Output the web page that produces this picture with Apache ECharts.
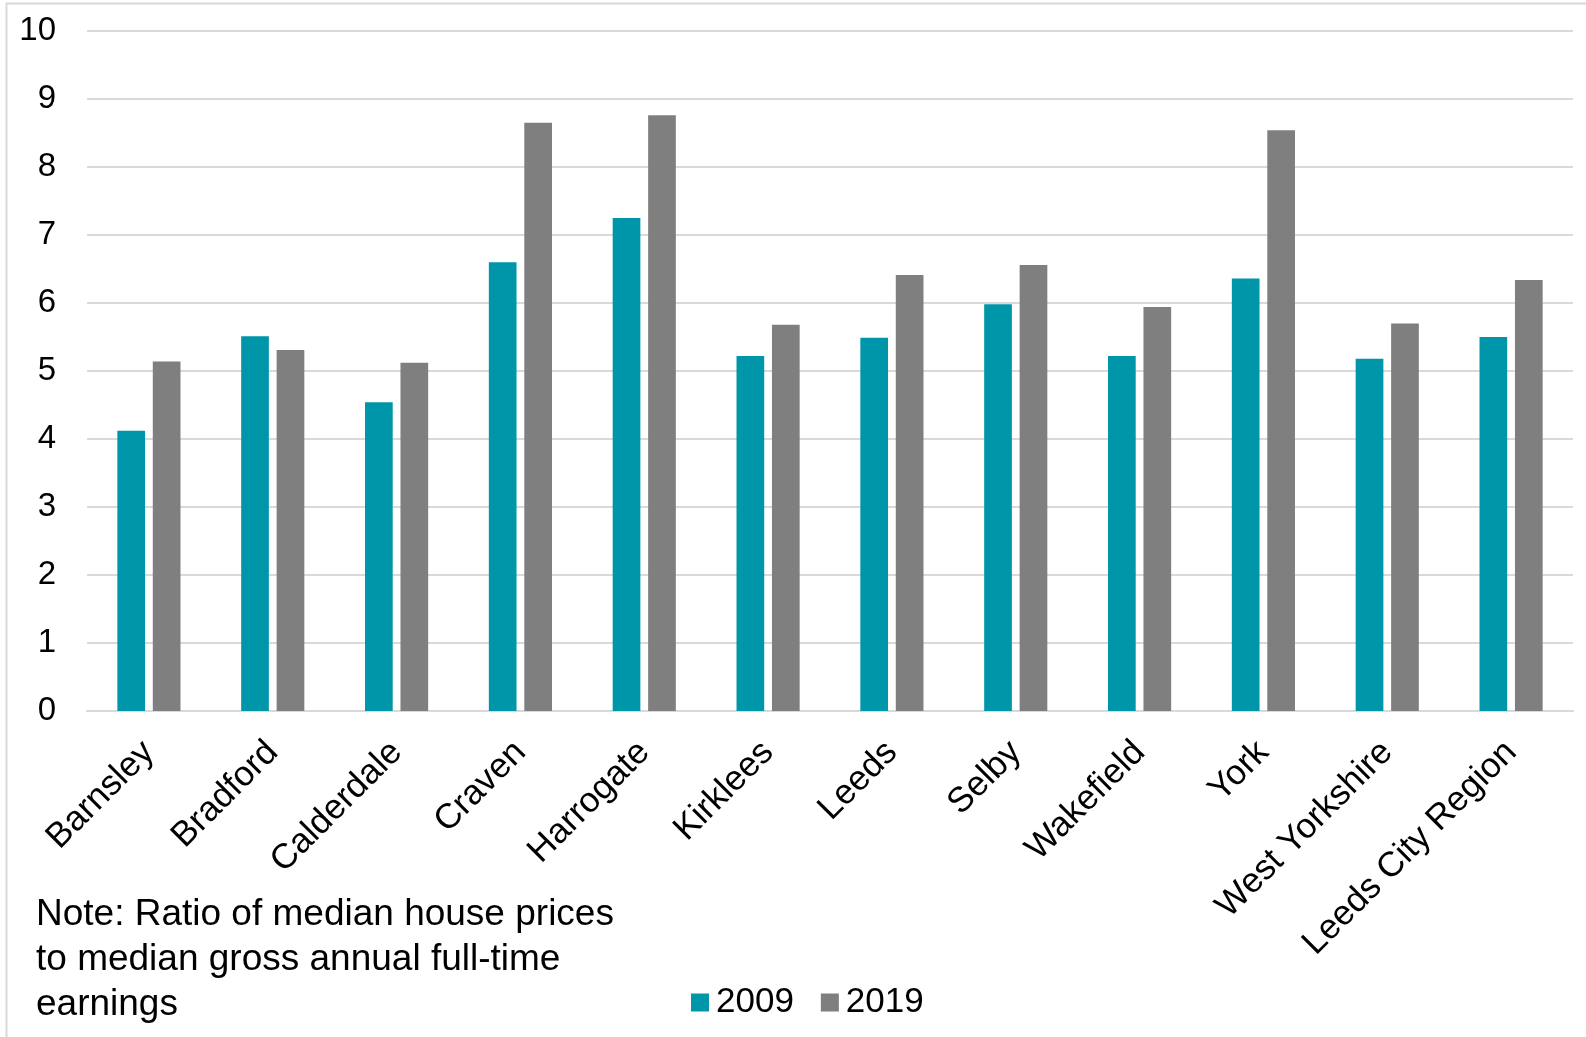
<!DOCTYPE html>
<html>
<head>
<meta charset="utf-8">
<script src="https://cdn.jsdelivr.net/npm/echarts@6/dist/echarts.min.js"></script>
<style>
html,body{margin:0;padding:0;background:#fff;}
#chart{width:1586px;height:1037px;}
</style>
</head>
<body>
<div id="chart"></div>
<script>
const categories = ['Barnsley','Bradford','Calderdale','Craven','Harrogate','Kirklees','Leeds','Selby','Wakefield','York','West Yorkshire','Leeds City Region'];
const values2009 = [4.12, 5.51, 4.54, 6.60, 7.25, 5.22, 5.49, 5.98, 5.22, 6.36, 5.18, 5.50];
const values2019 = [5.14, 5.31, 5.12, 8.65, 8.76, 5.68, 6.41, 6.56, 5.94, 8.54, 5.70, 6.34];
const seriesNames = ['2009', '2019'];
const noteText = 'Note: Ratio of median house prices\nto median gross annual full-time\nearnings';

const FONT = '"Liberation Sans", Arial, sans-serif';
const chart = echarts.init(document.getElementById('chart'));
chart.setOption({
  animation: false,
  backgroundColor: '#ffffff',
  textStyle: { fontFamily: FONT },
  grid: { left: 87, right: 13, top: 31, bottom: 326, containLabel: false },
  legend: {
    data: seriesNames,
    left: 686,
    top: 980,
    icon: 'rect',
    itemWidth: 18,
    itemHeight: 18,
    itemGap: 27,
    textStyle: { fontSize: 35, color: '#000', fontFamily: FONT, padding: [0, 0, 0, 2] }
  },
  xAxis: {
    type: 'category',
    data: categories,
    axisLine: { show: true, lineStyle: { color: '#d9d9d9', width: 2 } },
    axisTick: { show: false },
    axisLabel: { rotate: 45, fontSize: 35, color: '#000', fontFamily: FONT, margin: 36, interval: 0 }
  },
  yAxis: {
    type: 'value',
    min: 0,
    max: 10,
    interval: 1,
    axisLine: { show: false },
    axisTick: { show: false },
    splitLine: { lineStyle: { color: '#d9d9d9', width: 2 } },
    axisLabel: { fontSize: 33, color: '#000', fontFamily: FONT, margin: 31 }
  },
  series: [
    { name: seriesNames[0], type: 'bar', data: values2009, itemStyle: { color: '#0096A9' }, barGap: '28%', barCategoryGap: '49%' },
    { name: seriesNames[1], type: 'bar', data: values2019, itemStyle: { color: '#7F7F7F' } }
  ],
  graphic: [
    { type: 'rect', left: 4, top: 1, shape: { width: 1700, height: 1200 }, style: { fill: 'none', stroke: '#d9d9d9', lineWidth: 2 }, silent: true },
    { type: 'text', left: 36, top: 892, style: { text: noteText, fontSize: 37, lineHeight: 45, fill: '#000', font: '37px ' + FONT } }
  ]
});
</script>
</body>
</html>
